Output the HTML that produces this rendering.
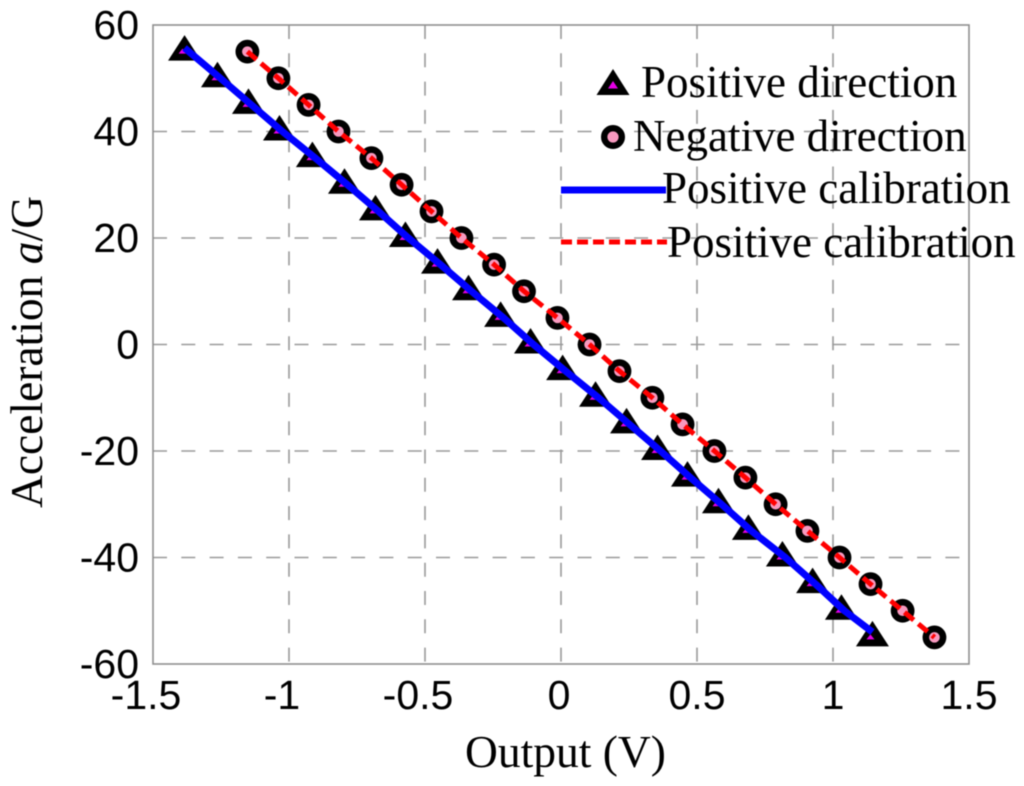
<!DOCTYPE html>
<html lang="en">
<head>
<meta charset="utf-8">
<title>Acceleration vs Output</title>
<style>
html,body{margin:0;padding:0;background:#fff;}
svg{display:block;filter:blur(0.5px);}
.tick{font-family:"Liberation Sans",sans-serif;font-size:41px;fill:#000;}
.title{font-family:"Liberation Serif",serif;font-size:45.5px;fill:#000;}
.legend{font-family:"Liberation Serif",serif;font-size:45px;fill:#000;}
</style>
</head>
<body>
<svg id="chart" width="1024" height="786" viewBox="0 0 1024 786" xmlns="http://www.w3.org/2000/svg">
  <rect x="0" y="0" width="1024" height="786" fill="#fff"/>
  <g id="grid"></g>
  <rect x="153" y="25" width="816" height="639" fill="none" stroke="#8f8f8f" stroke-width="1.6"/>
  <g id="xticks"></g>
  <g id="yticks"></g>
  <g id="series"></g>
  <text class="title" x="465" y="767">Output (V)</text>
  <text class="title" transform="translate(42,508) rotate(-90)">Acceleration <tspan font-style="italic">a</tspan>/G</text>
  <g>
    <g>
      <polygon points="613,69 629.5,95 596.5,95" fill="#000"/>
      <polygon points="613,81 618,88.5 608,88.5" fill="#e600e6"/>
      <text class="legend" x="641" y="97">Positive direction</text>
    </g>
    <g>
      <circle cx="613" cy="137" r="8.8" fill="#f799bf" stroke="#000" stroke-width="6.4"/>
      <text class="legend" x="633" y="151">Negative direction</text>
    </g>
    <g>
      <line x1="561" y1="190" x2="666" y2="190" stroke="#0000ff" stroke-width="7"/>
      <text class="legend" x="662" y="203">Positive calibration</text>
    </g>
    <g>
      <line x1="561" y1="242" x2="667" y2="242" stroke="#ff0000" stroke-width="5" stroke-dasharray="11 5"/>
      <text class="legend" x="667" y="257">Positive calibration</text>
    </g>
  </g>
</svg>
<script>
var xTickValues = [-1.5, -1, -0.5, 0, 0.5, 1, 1.5];
var yTickValues = [60, 40, 20, 0, -20, -40, -60];
var accelerationPositive = [55, 50, 45, 40, 35, 30, 25, 20, 15, 10, 5, 0, -5, -10, -15, -20, -25, -30, -35, -40, -45, -50, -55];
var outputPositive = [-1.384, -1.263, -1.149, -1.035, -0.914, -0.796, -0.682, -0.572, -0.454, -0.340, -0.222, -0.112, 0.006, 0.127, 0.241, 0.355, 0.465, 0.579, 0.689, 0.814, 0.925, 1.031, 1.145];
var accelerationNegative = [55, 50, 45, 40, 35, 30, 25, 20, 15, 10, 5, 0, -5, -10, -15, -20, -25, -30, -35, -40, -45, -50, -55];
var outputNegative = [-1.153, -1.039, -0.928, -0.818, -0.697, -0.586, -0.476, -0.366, -0.246, -0.136, -0.013, 0.105, 0.215, 0.336, 0.447, 0.564, 0.678, 0.789, 0.906, 1.024, 1.138, 1.256, 1.373];
var calibrationAcceleration = [55.7, 50, 45, 40, 35, 30, 25, 20, 15, 10, 5, 0, -5, -10, -15, -20, -25, -30, -35, -40, -45, -50, -54];
var calibrationOutput = [-1.384, -1.252, -1.138, -1.024, -0.903, -0.785, -0.671, -0.561, -0.443, -0.329, -0.211, -0.101, 0.017, 0.138, 0.252, 0.366, 0.476, 0.59, 0.7, 0.825, 0.936, 1.042, 1.145];

var NS = 'http://www.w3.org/2000/svg';
var plotLeft = 153, plotRight = 969, plotTop = 25, plotBottom = 664;
function xScale(v) { return plotLeft + (v + 1.5) / 3 * (plotRight - plotLeft); }
function yScale(v) { return plotTop + (60 - v) / 120 * (plotBottom - plotTop); }
function make(tag, attrs) {
  var el = document.createElementNS(NS, tag);
  for (var k in attrs) { el.setAttribute(k, attrs[k]); }
  return el;
}
var grid = document.getElementById('grid');
var xticks = document.getElementById('xticks');
var yticks = document.getElementById('yticks');
var series = document.getElementById('series');
var gridStyle = { stroke: '#9a9a9a', 'stroke-width': 1.6, 'stroke-dasharray': '14 14.3', fill: 'none' };

xTickValues.forEach(function (v) {
  var px = xScale(v);
  if (v > -1.5 && v < 1.5) {
    var gl = make('line', { x1: px, y1: plotTop, x2: px, y2: plotBottom });
    for (var k in gridStyle) { gl.setAttribute(k, gridStyle[k]); }
    
    
    grid.appendChild(gl);
  }
  var labelShift = v < 0 ? -7 : (v === 0 ? -2 : 0);
  var t = make('text', { x: px + labelShift, y: 709, 'text-anchor': 'middle', 'class': 'tick' });
  t.textContent = String(v);
  
  
  xticks.appendChild(t);
});

yTickValues.forEach(function (v) {
  var py = yScale(v);
  if (v > -60 && v < 60) {
    var gl = make('line', { x1: plotLeft, y1: py, x2: plotRight, y2: py });
    for (var k in gridStyle) { gl.setAttribute(k, gridStyle[k]); }
    
    
    grid.appendChild(gl);
  }
  var t = make('text', { x: 139, y: py + 14, 'text-anchor': 'end', 'class': 'tick' });
  t.textContent = String(v);
  
  
  yticks.appendChild(t);
});

outputPositive.forEach(function (v, i) {
  var px = xScale(v), py = yScale(accelerationPositive[i]);
  var tri = make('polygon', { points: px + ',' + (py - 16.5) + ' ' + (px + 16.5) + ',' + (py + 9) + ' ' + (px - 16.5) + ',' + (py + 9), fill: '#000' });
  
  
  series.appendChild(tri);
  var inner = make('polygon', { points: (px - 2) + ',' + (py - 3) + ' ' + (px + 2) + ',' + (py + 2) + ' ' + (px - 6) + ',' + (py + 2), fill: '#e600e6' });
  
  
  series.appendChild(inner);
});

outputNegative.forEach(function (v, i) {
  var px = xScale(v), py = yScale(accelerationNegative[i]);
  var c = make('circle', { cx: px, cy: py, r: 8.6, fill: '#f799bf', stroke: '#000', 'stroke-width': 6.6 });
  
  
  series.appendChild(c);
});

var bluePts = calibrationOutput.map(function (v, i) { return xScale(v) + ',' + yScale(calibrationAcceleration[i]); }).join(' ');
var blue = make('polyline', { points: bluePts, fill: 'none', stroke: '#0000ff', 'stroke-width': 7, 'stroke-linejoin': 'round' });


series.appendChild(blue);

var redPts = outputNegative.map(function (v, i) { return xScale(v) + ',' + yScale(accelerationNegative[i]); }).join(' ');
var red = make('polyline', { points: redPts, fill: 'none', stroke: '#ff0000', 'stroke-width': 5, 'stroke-dasharray': '12 6' });


series.appendChild(red);
</script>
</body>
</html>
